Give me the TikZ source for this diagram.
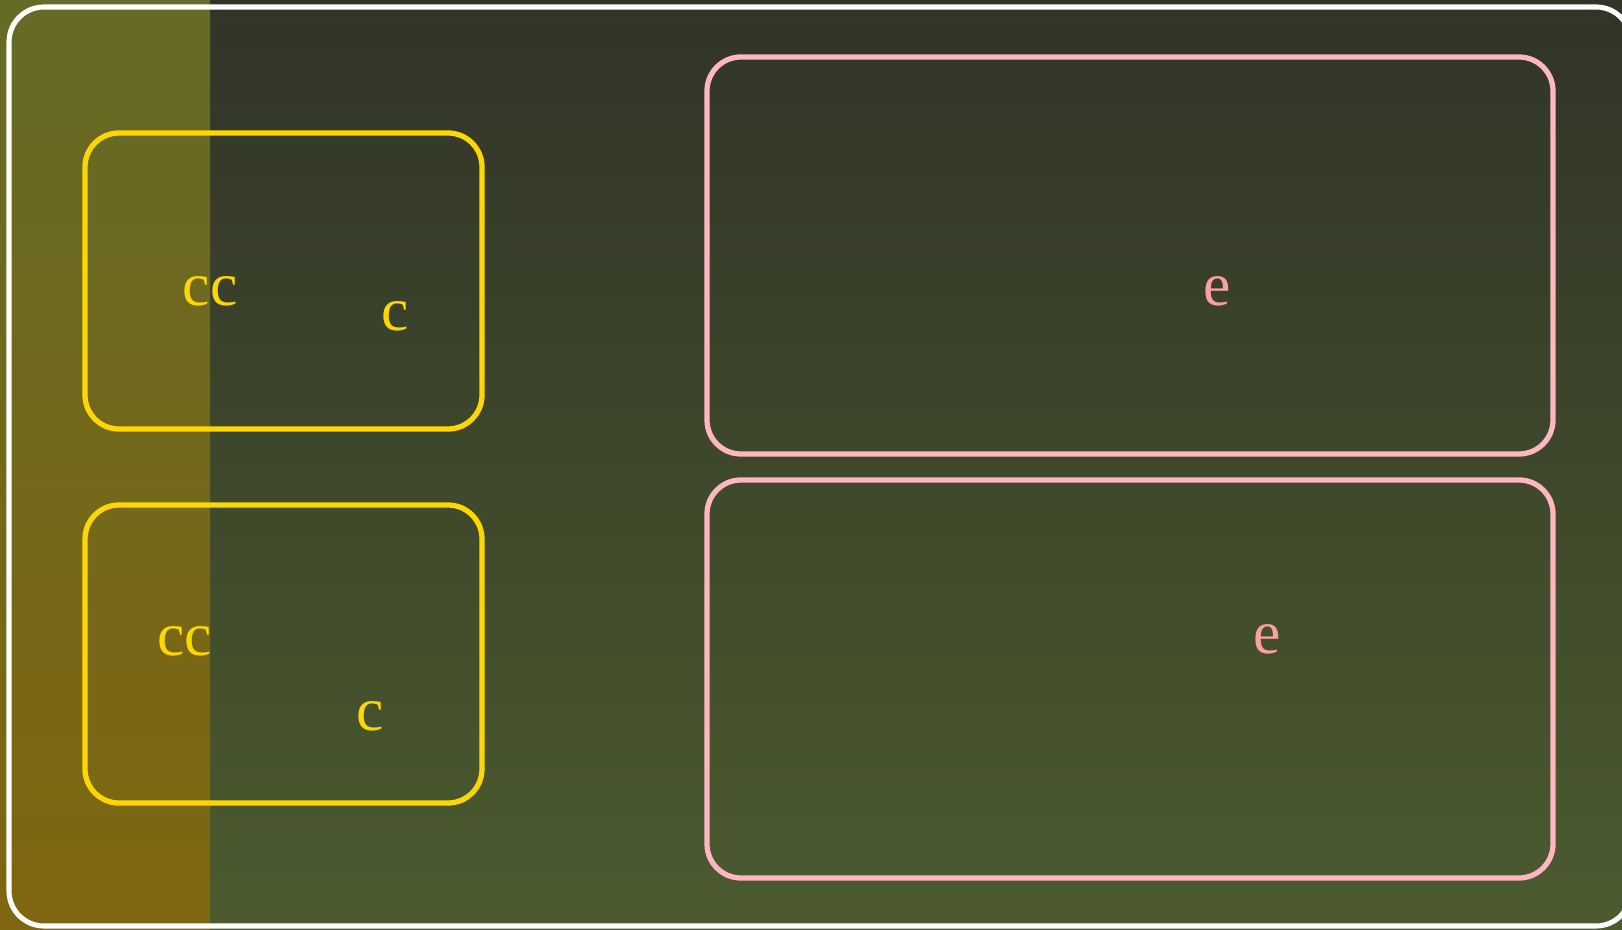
\documentclass[tikz,border=0pt]{standalone}
\usepackage{tikz}
\usepackage{fontspec}
\setmainfont{Liberation Serif}
\usetikzlibrary{positioning}
\definecolor{bgTop}{HTML}{313428}
\definecolor{bgBot}{HTML}{4B5B2E}
\definecolor{stripTop}{HTML}{656A26}
\definecolor{stripBot}{HTML}{806610}
\definecolor{gold}{HTML}{FFD700}
\definecolor{rose}{HTML}{FFB6C1}
\definecolor{roseText}{HTML}{FA9FA5}

\begin{document}
\begin{tikzpicture}[x=1cm,y=1cm,box/.style={draw,line width=1.5pt,rounded corners=0.34cm,inner sep=0pt,outer sep=0pt},lbl/.style={anchor=base,inner sep=0pt,font=\fontsize{17.5}{21}\selectfont}]
    \useasboundingbox (0,0) rectangle (16.22,9.29);
    \clip (0,0) rectangle (16.22,9.29);
    % background and left band
    \shade[top color=bgTop,bottom color=bgBot] (0,0) rectangle (16.22,9.29);
    \shade[top color=stripTop,bottom color=stripBot] (0,0) rectangle (2.10,9.29);
    \draw[white,line width=1.45pt,rounded corners=0.35cm] (0.09,0.03) rectangle (16.31,9.22);
    % left boxes
    \node[box,draw=gold,minimum width=3.97cm,minimum height=2.96cm] (c1) at (2.835,6.48) {};
    \node[box,draw=gold,minimum width=3.97cm,minimum height=2.98cm] (c2) at (2.835,2.75) {};
    \node[lbl,text=gold] (c1a) at (2.10,6.23) {cc};
    \node[lbl,text=gold] (c1b) at (3.95,5.98) {c};
    \node[lbl,text=gold] (c2a) at (1.845,2.74) {cc};
    \node[lbl,text=gold] (c2b) at (3.70,1.99) {c};
    % right boxes
    \node[box,draw=rose,minimum width=8.46cm,minimum height=3.97cm] (e1) at (11.30,6.735) {};
    \node[box,draw=rose,minimum width=8.46cm,minimum height=3.98cm] (e2) at (11.30,2.50) {};
    \node[lbl,text=roseText] (e1a) at (12.17,6.23) {e};
    \node[lbl,text=roseText] (e2a) at (12.67,2.75) {e};
  \end{tikzpicture}
\end{document}
